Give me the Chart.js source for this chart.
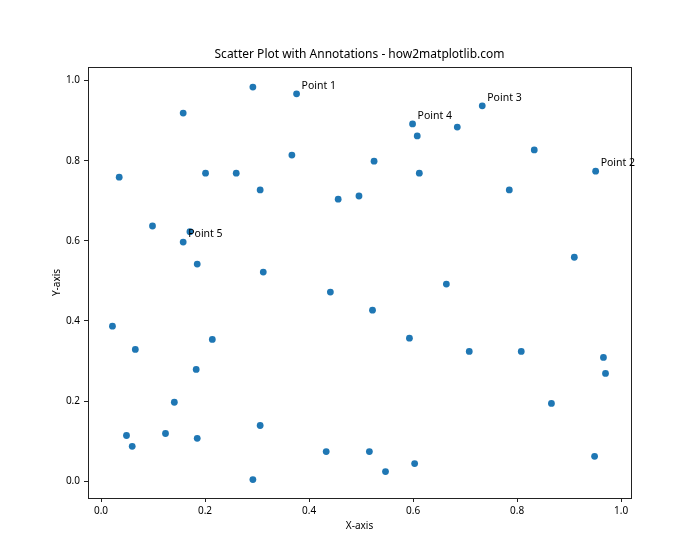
<!DOCTYPE html>
<html>
<head>
<meta charset="utf-8">
<script src="https://cdn.jsdelivr.net/npm/chart.js@4/dist/chart.umd.min.js"></script>
<style>
  html, body { margin: 0; padding: 0; background: #fff; }
  #wrap { width: 700px; height: 560px; }
</style>
</head>
<body>
<div id="wrap"><canvas id="scatter-chart"></canvas></div>
<script>
// data (first five points are the annotated ones)
const xValues = [0.376, 0.951, 0.733, 0.599, 0.158,
  0.292, 0.158, 0.367, 0.035, 0.201, 0.260, 0.306, 0.456, 0.496, 0.099,
  0.171, 0.185, 0.312, 0.608, 0.685, 0.833, 0.525, 0.612, 0.785, 0.910,
  0.441, 0.022, 0.214, 0.066, 0.183, 0.141, 0.049, 0.124, 0.060, 0.185,
  0.306, 0.292, 0.433, 0.522, 0.664, 0.593, 0.708, 0.808, 0.966, 0.970,
  0.866, 0.516, 0.547, 0.603, 0.949];
const yValues = [0.967, 0.774, 0.937, 0.892, 0.597,
  0.984, 0.919, 0.814, 0.759, 0.769, 0.769, 0.727, 0.704, 0.712, 0.637,
  0.623, 0.542, 0.522, 0.862, 0.884, 0.827, 0.799, 0.769, 0.727, 0.559,
  0.472, 0.387, 0.354, 0.329, 0.279, 0.197, 0.114, 0.119, 0.087, 0.107,
  0.139, 0.004, 0.074, 0.427, 0.492, 0.357, 0.324, 0.324, 0.309, 0.269,
  0.194, 0.074, 0.024, 0.044, 0.062];
const pointLabels = ["Point 1", "Point 2", "Point 3", "Point 4", "Point 5"];
const xTicks = [0.0, 0.2, 0.4, 0.6, 0.8, 1.0];
const yTicks = [0.0, 0.2, 0.4, 0.6, 0.8, 1.0];

const FONT = "'Noto Sans', 'DejaVu Sans', sans-serif";

// title, frame and point annotations
const extras = {
    id: 'extras',
    afterDraw(chart) {
        const ctx = chart.ctx;
        const a = chart.chartArea;
        const xs = chart.scales.x, ys = chart.scales.y;
        ctx.save();
        ctx.strokeStyle = '#222';
        ctx.lineWidth = 1;
        ctx.strokeRect(Math.round(a.left) + 0.5, Math.round(a.top) + 0.5,
            Math.round(a.right - a.left), Math.round(a.bottom - a.top));

        ctx.fillStyle = '#000';
        ctx.font = '12px ' + FONT;
        ctx.textAlign = 'center';
        ctx.textBaseline = 'middle';
        ctx.fillText('Scatter Plot with Annotations - how2matplotlib.com', (a.left + a.right) / 2, 55);

        ctx.font = '10.5px ' + FONT;
        ctx.textAlign = 'left';
        ctx.textBaseline = 'alphabetic';
        pointLabels.forEach((lbl, i) => {
            const px = xs.getPixelForValue(xValues[i]);
            const py = ys.getPixelForValue(yValues[i]);
            ctx.fillText(lbl, px + 5, py - 5);
        });
        ctx.restore();
    }
};

new Chart(document.getElementById("scatter-chart"), {
    type: 'scatter',
    data: {
        datasets: [{
            data: xValues.map((x, i) => ({x: x, y: yValues[i]})),
            backgroundColor: '#1f77b4',
            borderColor: '#1f77b4',
            pointRadius: 3.4,
            pointHoverRadius: 3.4,
            borderWidth: 0
        }]
    },
    options: {
        responsive: true,
        maintainAspectRatio: false,
        animation: false,
        layout: { padding: { left: 0, right: 69, top: 67, bottom: 28 } },
        plugins: {
            legend: { display: false },
            title: { display: false },
            tooltip: { enabled: false }
        },
        scales: {
            x: {
                type: 'linear',
                min: -0.025,
                max: 1.019,
                afterBuildTicks: s => { s.ticks = xTicks.map(v => ({value: v})); },
                afterFit: s => { s.height = 34; },
                grid: { drawOnChartArea: false, drawTicks: true, tickLength: 4, tickColor: '#222' },
                border: { color: '#222', width: 1 },
                ticks: {
                    color: '#000',
                    padding: 3,
                    maxRotation: 0,
                    font: { family: FONT, size: 10 },
                    callback: v => v.toFixed(1)
                },
                title: {
                    display: true,
                    text: 'X-axis',
                    color: '#000',
                    font: { family: FONT, size: 10 },
                    padding: { top: 0, bottom: 0 }
                }
            },
            y: {
                type: 'linear',
                min: -0.042,
                max: 1.034,
                afterBuildTicks: s => { s.ticks = yTicks.map(v => ({value: v})); },
                afterFit: s => { s.width = 88; },
                grid: { drawOnChartArea: false, drawTicks: true, tickLength: 4, tickColor: '#222' },
                border: { color: '#222', width: 1 },
                ticks: {
                    color: '#000',
                    padding: 4,
                    font: { family: FONT, size: 10 },
                    callback: v => v.toFixed(1)
                },
                title: {
                    display: true,
                    text: 'Y-axis',
                    color: '#000',
                    font: { family: FONT, size: 10 },
                    padding: { top: 51, bottom: 0 }
                }
            }
        }
    },
    plugins: [extras]
});
</script>
</body>
</html>
